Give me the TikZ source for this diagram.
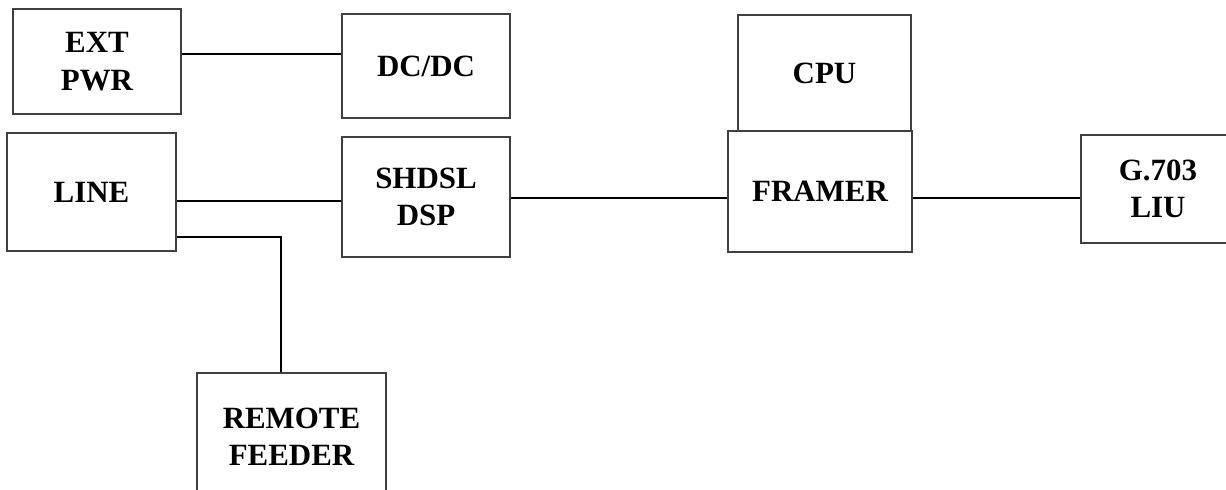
\documentclass[tikz,border=0pt]{standalone}
\usepackage{fontspec}
\setmainfont{Liberation Serif}
\tikzset{
	block/.style={draw=black!75, line width=1.1pt, align=center, inner sep=0pt,
		font=\bfseries\fontsize{22}{26.5}\selectfont},
	wire/.style={black, line width=1.4pt}
}
\begin{document}
\begin{tikzpicture}
	
	% Rahmen des Bildes
	\useasboundingbox (0,0) rectangle (30.65,12.225);
	
	% Obere Reihe: Stromversorgung und CPU
	\node[block, minimum width=4.2cm, minimum height=2.625cm] (ext) at (2.425,10.6875) {EXT\\PWR};
	\node[block, minimum width=4.2cm, minimum height=2.6cm] (dcdc) at (10.65,10.575) {DC/DC};
	\node[block, minimum width=4.325cm, minimum height=2.9cm] (cpu) at (20.6125,10.4) {CPU};
	
	% Mittlere Reihe: Signalweg
	\node[block, minimum width=4.225cm, minimum height=2.95cm] (line) at (2.2875,7.425) {LINE};
	\node[block, minimum width=4.2cm, minimum height=3.0cm] (dsp) at (10.65,7.3) {SHDSL\\DSP};
	\node[block, fill=white, minimum width=4.6cm, minimum height=3.025cm] (framer) at (20.5,7.4375) {FRAMER};
	\node[block, minimum width=3.85cm, minimum height=2.7cm] (liu) at (28.95,7.5) {G.703\\LIU};
	
	% Untere Reihe: Fernspeisung (unten abgeschnitten)
	\node[block, minimum width=4.725cm, minimum height=3.2cm] (remote) at (7.2875,1.3) {REMOTE\\FEEDER};
	
	% Verbindungen
	\draw[wire] ([yshift=0.195cm]ext.east) -- ([yshift=0.195cm]ext.east -| dcdc.west);
	\draw[wire] ([yshift=-0.2175cm]line.east) -- ([yshift=-0.2175cm]line.east -| dsp.west);
	\draw[wire] ([yshift=-0.025cm]dsp.east) -- ([yshift=-0.025cm]dsp.east -| framer.west);
	\draw[wire] ([yshift=-0.16cm]framer.east) -- ([yshift=-0.16cm]framer.east -| liu.west);
	
	% Abzweig von LINE zum REMOTE FEEDER
	\draw[wire] ([yshift=-1.1175cm]line.east) -| ([xshift=-0.2625cm]remote.north);
	
\end{tikzpicture}
\end{document}
